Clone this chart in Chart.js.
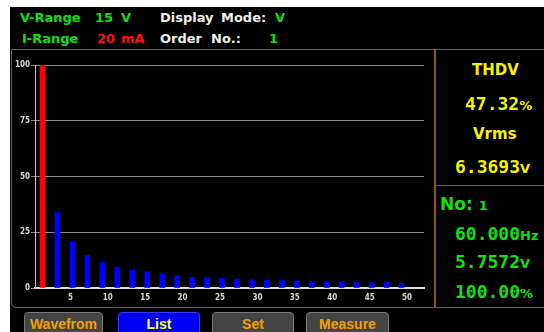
<!DOCTYPE html>
<html>
<head>
<meta charset="utf-8">
<script src="https://cdn.jsdelivr.net/npm/chart.js@4.4.1/dist/chart.umd.min.js"></script>
<style>
  html, body { margin: 0; padding: 0; background: #fff; width: 544px; height: 332px; overflow: hidden; }
  #screen { position: absolute; left: 10px; top: 7px; width: 534px; height: 325px; background: #000; overflow: hidden; }
  .t { position: absolute; white-space: pre; font-family: "DejaVu Sans", sans-serif; font-weight: bold; }
  .hd { font-size: 13px; line-height: 16px; }
  .g { color: #12e012; }
  .w { color: #f0f0f0; }
  .r { color: #ff1010; }
  .y { color: #f4f400; }
  .big { font-family: "DejaVu Sans Mono", monospace; font-size: 18px; line-height: 22px; }
  .unit { font-family: "DejaVu Sans", sans-serif; font-size: 13px; }
  .box { position: absolute; border: 1.5px solid #8f5a14; box-sizing: border-box; }
  .btn { position: absolute; top: 312px; height: 24px; box-sizing: border-box; border: 1px solid #7a7a7a; border-radius: 4px;
         background: #444; color: #f0a000; font: bold 14px "Liberation Sans", sans-serif; text-align: center; line-height: 22px; }
  #chartWrap { position: absolute; left: 12px; top: 52px; width: 420px; height: 252px; }
</style>
</head>
<body>
<div id="screen"></div>

<!-- header -->
<div class="t hd g" style="left:20px; top:10px;">V-Range</div>
<div class="t hd g" style="left:95px; top:10px;">15</div>
<div class="t hd g" style="left:121px; top:10px;">V</div>
<div class="t hd w" style="left:160px; top:10px;">Display</div>
<div class="t hd w" style="left:221px; top:10px;">Mode:</div>
<div class="t hd g" style="left:275px; top:10px;">V</div>
<div class="t hd g" style="left:22px; top:31px;">I-Range</div>
<div class="t hd r" style="left:97px; top:31px;">20</div>
<div class="t hd r" style="left:121px; top:31px;">mA</div>
<div class="t hd w" style="left:160px; top:31px;">Order</div>
<div class="t hd w" style="left:211px; top:31px;">No.:</div>
<div class="t hd g" style="left:269px; top:31px;">1</div>

<!-- frames -->
<div class="box" style="left:11px; top:49px; width:425px; height:259px; border-radius: 0 0 0 5px;"></div>
<div class="box" style="left:434px; top:49px; width:114px; height:259px;"></div>
<div class="box" style="left:434px; top:185px; width:114px; height:1.5px; border-width: 1.5px 0 0 0;"></div>

<div id="chartWrap"><canvas id="harmonic-graph"></canvas></div>

<!-- right panel -->
<div class="t y" style="left:472px; top:61px; font-size:15px; line-height:18px;">THDV</div>
<div class="t y big" style="left:465px; top:93px;">47.32<span class="unit">%</span></div>
<div class="t y" style="left:473px; top:125px; font-size:15px; line-height:18px;">Vrms</div>
<div class="t y big" style="left:455px; top:156px;">6.3693<span class="unit">V</span></div>

<div class="t g" style="left:440px; top:194px; font-size:17px; line-height:20px;">No: <span style="font-size:13px;">1</span></div>
<div class="t g big" style="left:455px; top:223px;">60.000<span class="unit">Hz</span></div>
<div class="t g big" style="left:455px; top:251px;">5.7572<span class="unit">V</span></div>
<div class="t g big" style="left:455px; top:281px;">100.00<span class="unit">%</span></div>

<!-- buttons -->
<div class="btn" style="left:24px; width:79px;">Wavefrom</div>
<div class="btn" style="left:118px; width:82px; background:#0000f4; border-color:#3a3aff; color:#ffff20;">List</div>
<div class="btn" style="left:212px; width:82px;">Set</div>
<div class="btn" style="left:306px; width:83px;">Measure</div>

<script>
/**
 * Harmonic data
 */
const harmonicOrders = [1, 3, 5, 7, 9, 11, 13, 15, 17, 19, 21, 23, 25, 27, 29, 31, 33, 35, 37, 39, 41, 43, 45, 47, 49];
const harmonicPercent = [100, 33.8, 20.5, 14.7, 11.4, 9.4, 8.1, 7.2, 6.1, 5.5, 4.8, 4.6, 4.3, 4.0, 3.7, 3.4, 3.4, 3.1, 2.8, 2.7, 2.7, 2.4, 2.4, 2.5, 2.1];
const yTickValues = [0, 25, 50, 75, 100];
const xTickValues = [5, 10, 15, 20, 25, 30, 35, 40, 45, 50];

const tickFont = { family: 'DejaVu Sans Condensed', size: 8, weight: 'bold' };

let harmonicChartData = {
    datasets: [{
        label: 'Harmonic (%)',
        data: harmonicOrders.map((order, i) => ({ x: order, y: harmonicPercent[i] })),
        backgroundColor: harmonicOrders.map(order => order === 1 ? '#ff0000' : '#0000ff'),
        borderWidth: 0,
        barThickness: 5,
    }]
};

let harmonicConfig = {
    type: 'bar',
    data: harmonicChartData,
    options: {
        responsive: false,
        animation: false,
        events: [],
        layout: { padding: { left: 0, top: 13, right: 8, bottom: 0 } },
        plugins: {
            legend: { display: false },
            tooltip: { enabled: false }
        },
        scales: {
            x: {
                type: 'linear',
                offset: false,
                min: 0,
                max: 52,
                afterFit: scale => { scale.height = 16; },
                afterBuildTicks: scale => {
                    scale.ticks = xTickValues.map(v => ({ value: v }));
                },
                grid: { display: false, drawTicks: false, offset: false },
                border: { display: true, color: '#dcdcdc', width: 2 },
                ticks: {
                    color: '#d8d8d8',
                    font: tickFont,
                    padding: 5,
                    labelOffset: -2,
                    maxRotation: 0,
                    autoSkip: false
                }
            },
            y: {
                min: 0,
                max: 100,
                afterFit: scale => { scale.width = 23; },
                afterBuildTicks: scale => {
                    scale.ticks = yTickValues.map(v => ({ value: v }));
                },
                grid: { color: '#8c8c8c', lineWidth: 1, tickLength: 4 },
                border: { display: true, color: '#c4c4c4', width: 1 },
                ticks: {
                    color: '#d8d8d8',
                    font: tickFont,
                    padding: 1
                }
            }
        }
    }
};

const canvas = document.getElementById('harmonic-graph');
canvas.width = 420;
canvas.height = 252;
const harmonicChart = new Chart(canvas, harmonicConfig);
</script>
</body>
</html>
